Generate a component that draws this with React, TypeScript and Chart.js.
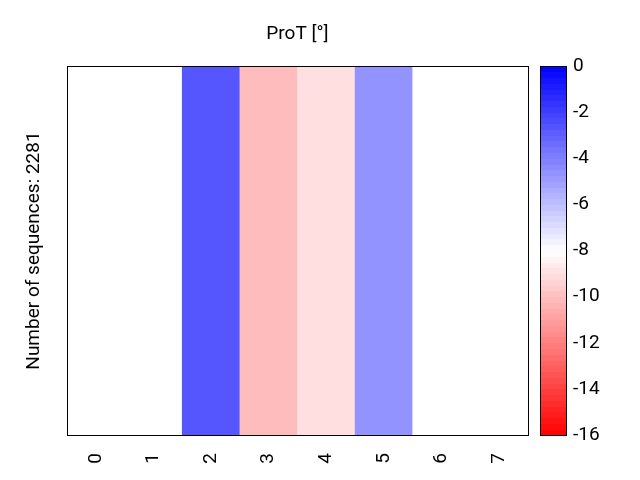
import React, { useEffect, useRef } from "react";
import { Chart, registerables } from "chart.js";

Chart.register(...registerables);

const positions = ["0", "1", "2", "3", "4", "5", "6", "7"];
const cellValues = [-8, -8, -2.7, -10.1, -9.0, -4.6, -8, -8];
const colorMin = -16;
const colorMax = 0;
const colorStep = 2;
const colorLevels = 64;
const chartTitle = "ProT [°]";
const yTitle = "Number of sequences: 2281";

const FONT = "Roboto";
const FS = 19;

function bwr(v: number): string {
  let t = (v - colorMin) / (colorMax - colorMin);
  t = Math.max(0, Math.min(1, t));
  let r: number, g: number, b: number;
  if (t < 0.5) {
    r = 255;
    g = b = Math.round(255 * t * 2);
  } else {
    b = 255;
    r = g = Math.round(255 * (1 - t) * 2);
  }
  return `rgb(${r},${g},${b})`;
}

const framePlugin = {
  id: "frameAndColorbar",
  afterDraw(chart: any) {
    const { ctx, chartArea } = chart;
    const cb = chart.scales.cb;
    ctx.save();
    const x0 = Math.round(chartArea.right) + 12;
    const w = 26;
    const step = (colorMax - colorMin) / colorLevels;
    for (let i = 0; i < colorLevels; i++) {
      const lo = colorMin + i * step;
      const hi = lo + step;
      const yTop = cb.getPixelForValue(hi);
      const yBot = cb.getPixelForValue(lo);
      ctx.fillStyle = bwr((lo + hi) / 2);
      ctx.fillRect(x0, Math.floor(yTop), w, Math.ceil(yBot) - Math.floor(yTop));
    }
    ctx.strokeStyle = "#000";
    ctx.lineWidth = 1;
    const top = cb.getPixelForValue(colorMax);
    const bot = cb.getPixelForValue(colorMin);
    ctx.strokeRect(x0 + 0.5, Math.round(top) + 0.5, w, Math.round(bot - top));
    ctx.strokeRect(
      Math.round(chartArea.left) + 0.5,
      Math.round(chartArea.top) + 0.5,
      Math.round(chartArea.right - chartArea.left),
      Math.round(chartArea.bottom - chartArea.top)
    );
    ctx.restore();
  },
};

export default function App() {
  const ref = useRef<HTMLCanvasElement | null>(null);
  useEffect(() => {
    if (!ref.current) return;
    Chart.defaults.color = "#000";
    Chart.defaults.font.family = FONT;
    const colorTicks: number[] = [];
    for (let v = colorMin; v <= colorMax; v += colorStep) colorTicks.push(v);
    const chart = new Chart(ref.current, {
      type: "bar",
      data: {
        labels: positions,
        datasets: [
          {
            data: cellValues.map(() => 1),
            backgroundColor: cellValues.map((v) => bwr(v)),
            borderWidth: 0,
            barPercentage: 1,
            categoryPercentage: 1,
          },
        ],
      },
      options: {
        responsive: false,
        animation: false,
        layout: { padding: { left: 23, right: 0, top: 0, bottom: 0 } },
        plugins: {
          legend: { display: false },
          tooltip: { enabled: false },
          title: { display: false },
        },
        scales: {
          x: {
            type: "category",
            grid: { display: false, drawTicks: false },
            border: { display: false },
            afterFit: (scale: any) => {
              scale.height = 45;
            },
            ticks: {
              minRotation: 90,
              maxRotation: 90,
              autoSkip: false,
              padding: 18,
              font: { family: FONT, size: FS },
              color: "#000",
            },
          },
          x2: {
            type: "category",
            position: "top",
            grid: { display: false, drawTicks: false },
            border: { display: false },
            ticks: { display: false },
            afterFit: (scale: any) => {
              scale.height = 66;
            },
            title: {
              display: true,
              text: chartTitle,
              font: { family: FONT, size: FS },
              color: "#000",
              padding: { top: 23, bottom: 0 },
            },
          },
          y: {
            min: 0,
            max: 1,
            grid: { display: false, drawTicks: false },
            border: { display: false },
            ticks: { display: false },
            afterFit: (scale: any) => {
              scale.width = 44;
            },
            title: {
              display: true,
              text: yTitle,
              font: { family: FONT, size: FS },
              color: "#000",
              padding: { top: 0, bottom: 0 },
            },
          },
          cb: {
            type: "linear",
            position: "right",
            min: colorMin,
            max: colorMax,
            grid: { display: false, drawTicks: false },
            border: { display: false },
            afterFit: (scale: any) => {
              scale.width = 112;
              scale.paddingTop = 0;
              scale.paddingBottom = 0;
            },
            afterBuildTicks: (scale: any) => {
              scale.ticks = colorTicks.map((v) => ({ value: v }));
            },
            ticks: {
              stepSize: colorStep,
              padding: 45,
              font: { family: FONT, size: FS },
              color: "#000",
            },
          },
        },
      },
      plugins: [framePlugin],
    } as any);
    return () => chart.destroy();
  }, []);
  return (
    <div style={{ position: "fixed", left: 0, top: 0, width: 640, height: 480, background: "#fff" }}>
      <canvas ref={ref} width={640} height={480} style={{ width: 640, height: 480 }} />
    </div>
  );
}
